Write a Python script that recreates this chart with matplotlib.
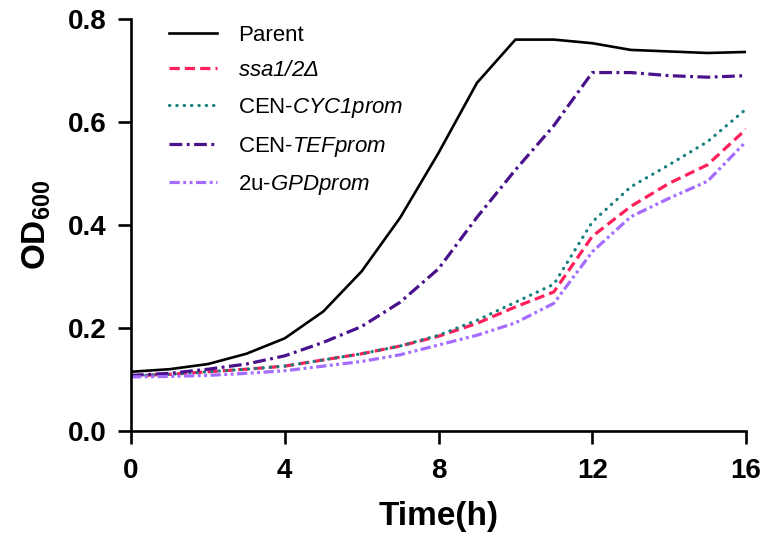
import matplotlib
matplotlib.use("Agg")
import matplotlib.pyplot as plt

plt.rcParams["font.family"] = ["Liberation Sans", "DejaVu Sans"]
# italic strain names in the legend (digits included), bold axis label
plt.rcParams["mathtext.fontset"] = "custom"
plt.rcParams["mathtext.rm"] = "Liberation Sans:italic"
plt.rcParams["mathtext.it"] = "Liberation Sans:italic"
plt.rcParams["mathtext.bf"] = "Liberation Sans:bold"

hours = list(range(17))
parent = [0.115, 0.12, 0.13, 0.15, 0.18, 0.232, 0.31, 0.414, 0.54, 0.676, 0.76,
          0.76, 0.753, 0.74, 0.737, 0.734, 0.736]
ssa12 = [0.107, 0.11, 0.115, 0.12, 0.126, 0.138, 0.15, 0.165, 0.184, 0.209, 0.241,
         0.27, 0.378, 0.436, 0.481, 0.517, 0.586]
cyc1 = [0.107, 0.11, 0.115, 0.12, 0.126, 0.138, 0.15, 0.165, 0.186, 0.215, 0.25,
        0.285, 0.406, 0.474, 0.517, 0.562, 0.625]
tef = [0.108, 0.112, 0.12, 0.13, 0.146, 0.172, 0.203, 0.25, 0.315, 0.415, 0.507,
       0.593, 0.696, 0.696, 0.69, 0.687, 0.69]
gpd = [0.105, 0.106, 0.108, 0.112, 0.117, 0.126, 0.135, 0.148, 0.167, 0.186, 0.21,
       0.248, 0.348, 0.416, 0.452, 0.485, 0.562]

labels = ["Parent", r"$\mathit{ssa1/2Δ}$", r"CEN-$\mathit{CYC1prom}$",
          r"CEN-$\mathit{TEFprom}$", r"2u-$\mathit{GPDprom}$"]

fig = plt.figure(figsize=(7.68, 5.46), dpi=100)
ax = fig.add_axes([0.1706, 0.2106, 0.8008, 0.7546])

ax.plot(hours, parent, color="black", lw=1.9, label=labels[0])
ax.plot(hours, ssa12, color="#ff1f5b", lw=2.3, dashes=(3.2, 1.6), label=labels[1])
ax.plot(hours, cyc1, color="#15807e", lw=2.3, dashes=(0.1, 2.2), dash_capstyle="round",
        label=labels[2])
ax.plot(hours, tef, color="#4a118c", lw=2.3, dashes=(4.0, 1.4, 0.9, 1.4), label=labels[3])
ax.plot(hours, gpd, color="#a46cff", lw=2.3, dashes=(3.2, 1.1, 0.9, 1.1, 0.9, 1.1),
        label=labels[4])

ax.set_xlim(0, 16)
ax.set_ylim(0, 0.8)
ax.set_xticks([0, 4, 8, 12, 16])
ax.set_yticks([0.0, 0.2, 0.4, 0.6, 0.8])
ax.set_yticklabels(["0.0", "0.2", "0.4", "0.6", "0.8"])

for side in ["top", "right"]:
    ax.spines[side].set_visible(False)
for side in ["left", "bottom"]:
    ax.spines[side].set_linewidth(1.9)

ax.tick_params(direction="out", length=9.5, width=1.9, labelsize=20)
ax.tick_params(axis="x", pad=10)
ax.tick_params(axis="y", pad=8)
for lab in ax.get_xticklabels() + ax.get_yticklabels():
    lab.set_fontweight("bold")

ax.set_xlabel("Time(h)", fontsize=24, fontweight="bold", labelpad=12)
ax.set_ylabel(r"$\mathbf{OD_{600}}$", fontsize=24, labelpad=11)

ax.legend(loc="upper left", bbox_to_anchor=(0.03, 1.035), frameon=False, fontsize=16,
          handlelength=2.15, handletextpad=0.95, labelspacing=0.66)

fig.savefig("out.png", dpi=100)
